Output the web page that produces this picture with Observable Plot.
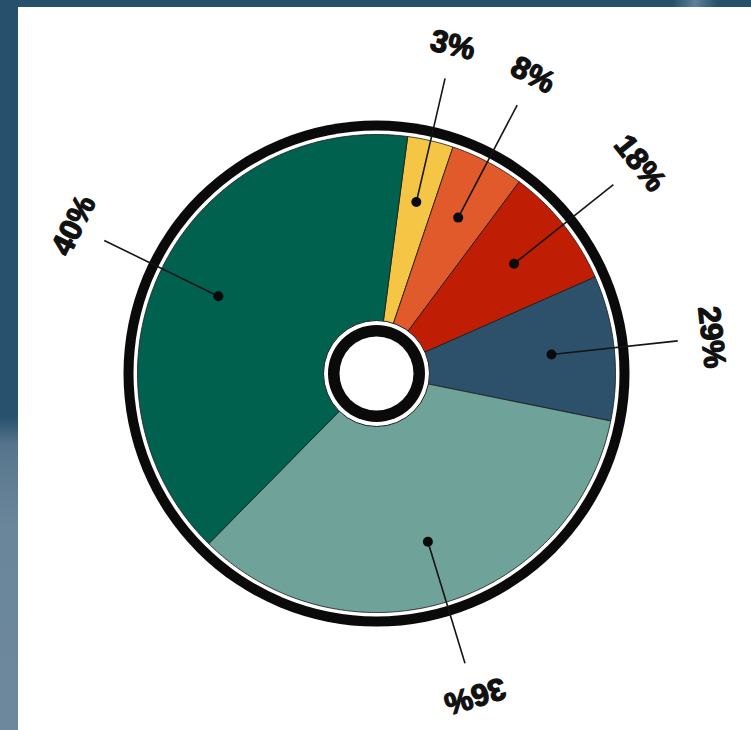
<!DOCTYPE html>
<html><head><meta charset="utf-8">
<script src="https://cdn.jsdelivr.net/npm/d3@7"></script>
<script src="https://cdn.jsdelivr.net/npm/@observablehq/plot@0.6"></script>
<style>
html,body{margin:0;padding:0;}
body{width:751px;height:730px;overflow:hidden;position:relative;
background:linear-gradient(to bottom,#26506b 0%,#27516c 57%,#56758c 61%,#6a869b 72%,#6d889c 100%);}
#topglow{position:absolute;left:640px;top:0;width:110px;height:7px;background:linear-gradient(100deg,rgba(255,255,255,0) 30%,rgba(160,190,210,0.45) 50%,rgba(255,255,255,0) 70%);}
#chart{position:absolute;left:18px;top:7px;width:733px;height:723px;background:#fff;}
#chart svg{display:block;}
</style></head><body><div id="topglow"></div><div id="chart"></div>
<script>
// Slice labels as printed on the chart (clockwise from the top)
const labels = ["3%", "8%", "18%", "29%", "36%", "40%"];
// Share of the circle each slice actually occupies in the picture (percent)
const shares = [3.1, 5.0, 8.2, 9.8, 34.2, 39.7];
const colors = ["#f5c645", "#e05a2c", "#bf1d04", "#2d516b", "#6fa39a", "#00614e"];
const startAngleDeg = 7.5;

const W = 733, H = 723, CX = 358, CY = 366;
const R_OUT = 253, R_RING_IN = 243, R_PIE = 239;
const R_DOT = 176, R_LINE_END = 303, R_LABEL = 337;

const rad = d => d * Math.PI / 180;
const data = labels.map((label, i) => ({label, share: shares[i], color: colors[i]}));
const arcs = d3.pie().sort(null).value(d => d.share)
  .startAngle(rad(startAngleDeg)).endAngle(rad(startAngleDeg) + 2 * Math.PI)(data);

const pt = (r, a) => ({x: r * Math.sin(a), y: -r * Math.cos(a)});

// slice outlines
const slicePts = [];
for (const a of arcs) {
  const label = a.data.label;
  slicePts.push({label, ...pt(0, 0)});
  const n = Math.max(8, Math.ceil((a.endAngle - a.startAngle) / rad(0.5)));
  for (let k = 0; k <= n; k++) {
    const t = a.startAngle + (a.endAngle - a.startAngle) * k / n;
    slicePts.push({label, ...pt(R_PIE, t)});
  }
  slicePts.push({label, ...pt(0, 0)});
}

const mids = arcs.map(a => {
  const m = (a.startAngle + a.endAngle) / 2;
  const p0 = pt(R_DOT, m), p1 = pt(R_LINE_END, m), pl = pt(R_LABEL, m);
  return {label: a.data.label, x0: p0.x, y0: p0.y, x1: p1.x, y1: p1.y, lx: pl.x, ly: pl.y, rot: m * 180 / Math.PI};
});

const center = [{x: 0, y: 0}];

const plot = Plot.plot({
  width: W, height: H,
  marginLeft: 0, marginRight: 0, marginTop: 0, marginBottom: 0,
  x: {domain: [-CX, W - CX], range: [0, W], axis: null},
  y: {domain: [-CY, H - CY], range: [0, H], axis: null},
  color: {domain: labels, range: colors},
  style: {background: "white", overflow: "visible"},
  marks: [
    Plot.dot(center, {x: "x", y: "y", r: R_OUT, fill: "#0a0a0a", stroke: "none"}),
    Plot.dot(center, {x: "x", y: "y", r: R_RING_IN, fill: "#ffffff", stroke: "none"}),
    Plot.line(slicePts, {x: "x", y: "y", z: "label", fill: "label", stroke: "#1d1d1d", strokeWidth: 1, strokeOpacity: 0.85, curve: "linear"}),
    Plot.dot(center, {x: "x", y: "y", r: 53, fill: "#ffffff", stroke: "#1d1d1d", strokeWidth: 1}),
    Plot.dot(center, {x: "x", y: "y", r: 48.5, fill: "#0a0a0a", stroke: "none"}),
    Plot.dot(center, {x: "x", y: "y", r: 37, fill: "#ffffff", stroke: "none"}),
    Plot.link(mids, {x1: "x0", y1: "y0", x2: "x1", y2: "y1", stroke: "#141414", strokeWidth: 1.6}),
    Plot.dot(mids, {x: "x0", y: "y0", r: 5, fill: "#0a0a0a", stroke: "none"}),
    Plot.text(mids, {x: "lx", y: "ly", text: "label", rotate: "rot",
      fontSize: 31, fontWeight: "bold", fontFamily: "Liberation Sans, Arial, sans-serif",
      fill: "#111", stroke: "#111", strokeWidth: 1.3, textAnchor: "middle", lineAnchor: "middle"})
  ]
});
document.getElementById("chart").appendChild(plot);
</script>
</body></html>
